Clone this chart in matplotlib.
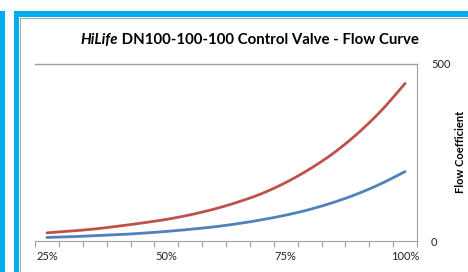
import numpy as np
import matplotlib
matplotlib.use("Agg")
import matplotlib.pyplot as plt
from matplotlib.patches import Rectangle
from matplotlib.lines import Line2D

# valve opening categories and flow coefficients
openings = ["25%", "30%", "35%", "40%", "45%", "50%", "55%", "60%",
            "65%", "70%", "75%", "80%", "85%", "90%", "95%", "100%"]
flow_red = [23, 28, 34, 42, 51, 61, 74, 90, 110, 134, 165, 203, 248, 303, 368, 445]
flow_blue = [10, 12, 15, 18, 22, 27, 33, 40, 49, 60, 73, 89, 109, 133, 162, 196]
shown_labels = ["25%", "50%", "75%", "100%"]

plt.rcParams["font.family"] = ["Lato", "DejaVu Sans"]

W, H = 468, 272
fig = plt.figure(figsize=(W / 100, H / 100), dpi=100)

def px(x0, y0, x1, y1, **kw):
    # rectangle given in pixel coords (top-left origin)
    fig.patches.append(Rectangle((x0 / W, 1 - y1 / H), (x1 - x0) / W, (y1 - y0) / H,
                                 transform=fig.transFigure, **kw))

sky = "#00AEEF"
px(0, 11, 5, H, color=sky, lw=0)
px(14, 11, 19, H, color=sky, lw=0)
px(14, 11, W, 17, color=sky, lw=0)
fig.lines.append(Line2D([19.5 / W, 19.5 / W], [0, 1 - 17.5 / H], transform=fig.transFigure,
                        color="#a6a6a6", lw=0.8))
fig.lines.append(Line2D([19.5 / W, 1], [1 - 17.5 / H, 1 - 17.5 / H], transform=fig.transFigure,
                        color="#a6a6a6", lw=0.8))

ax = fig.add_axes([35 / W, 1 - 241 / H, (417 - 35) / W, (241 - 64) / H])
x = np.arange(len(openings))

# smoothed lines like excel
def smooth(xv, yv, n=20):
    xv = np.asarray(xv, float); yv = np.asarray(yv, float)
    xs, ys = [], []
    m = np.gradient(yv, xv)
    for i in range(len(xv) - 1):
        t = np.linspace(0, 1, n, endpoint=False)
        h = xv[i + 1] - xv[i]
        h00 = 2*t**3 - 3*t**2 + 1; h10 = t**3 - 2*t**2 + t
        h01 = -2*t**3 + 3*t**2; h11 = t**3 - t**2
        xs.append(xv[i] + t * h)
        ys.append(h00*yv[i] + h10*h*m[i] + h01*yv[i+1] + h11*h*m[i+1])
    xs.append([xv[-1]]); ys.append([yv[-1]])
    return np.concatenate(xs), np.concatenate(ys)

sx, sy = smooth(x, flow_red)
ax.plot(sx, sy, color="#C0504D", lw=2.0, solid_capstyle="round")
sx, sy = smooth(x, flow_blue)
ax.plot(sx, sy, color="#4F81BD", lw=2.0, solid_capstyle="round")

ax.set_xlim(-0.5, len(openings) - 0.5)
ax.set_ylim(0, 500)
for s in ["left", "top"]:
    ax.spines[s].set_visible(False)
ax.spines["bottom"].set_color("#a0a0a0")
ax.spines["right"].set_color("#a0a0a0")
ax.axhline(500, color="#a0a0a0", lw=1, clip_on=False)

ax.set_xticks(np.arange(-0.5, len(openings), 1))
ax.set_xticklabels([])
ax.tick_params(axis="x", length=4, color="#a0a0a0", width=0.8)
ax.set_xticks([openings.index(l) for l in shown_labels], minor=True)
ax.set_xticklabels(shown_labels, minor=True)
ax.tick_params(axis="x", which="minor", length=0, pad=7, labelsize=8, labelcolor="#222222")

ax.yaxis.tick_right()
ax.set_yticks([0, 500])
ax.tick_params(axis="y", length=0, pad=10, labelsize=8, labelcolor="#222222")

# axis title sits at the right edge of the picture
fig.text(460 / W, 1 - 152 / H, "Flow Coefficient", fontsize=8, fontweight="bold",
         rotation=90, ha="center", va="center")

# title: italic brand name + regular rest
renderer = fig.canvas.get_renderer()
t1 = fig.text(0, 1 - 40 / H, "HiLife", fontsize=10.8, fontweight="bold", style="italic", va="center")
t2 = fig.text(0, 1 - 40 / H, " DN100-100-100 Control Valve - Flow Curve", fontsize=10.8,
              fontweight="bold", va="center")
w1 = t1.get_window_extent(renderer).width
w2 = t2.get_window_extent(renderer).width
start = 250 - (w1 + w2) / 2
t1.set_x(start / W)
t2.set_x((start + w1) / W)

fig.savefig("out.png", dpi=100)
